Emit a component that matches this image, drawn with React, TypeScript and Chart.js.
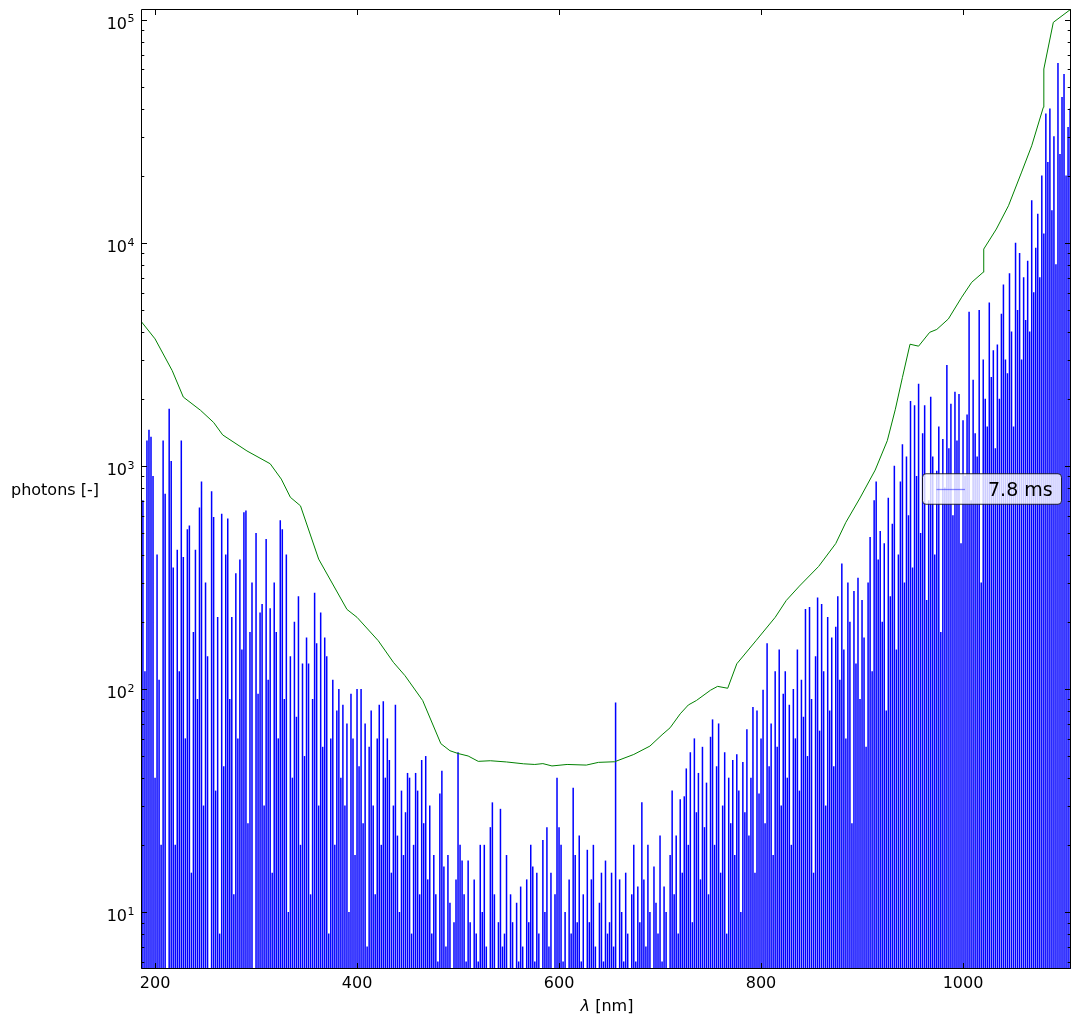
import React, { useEffect, useRef } from "react";
import { Chart, registerables } from "chart.js";

Chart.register(...registerables);

// ---------------- data ----------------
const LAMBDA_START = 186; // nm, first spectrometer bin
const LAMBDA_STEP = 2; // nm per bin
const seriesLabel = "7.8 ms";

// photon counts per bin (0 = below the axis)
const photonCounts: number[] = [
  // 186 - 224
  380, 700, 120, 1300, 1450, 1350, 900, 40, 400, 110, 20, 1300, 750, 0, 1800, 1050, 350, 20, 420, 120,
  // 226 - 264
  1300, 390, 60, 520, 540, 15, 180, 420, 90, 650, 850, 30, 300, 140, 0, 770, 590, 35, 210, 8,
  // 266 - 304
  610, 45, 400, 580, 90, 210, 12, 330, 60, 380, 150, 620, 630, 25, 180, 300, 0, 500, 95, 220,
  // 306 - 344
  240, 30, 470, 110, 230, 15, 300, 180, 60, 570, 520, 90, 400, 10, 140, 40, 200, 75, 260, 20,
  // 346 - 384
  130, 50, 170, 130, 12, 90, 270, 160, 30, 220, 55, 170, 140, 8, 60, 110, 20, 80, 100, 40,
  // 386 - 424
  85, 30, 70, 10, 95, 60, 18, 100, 45, 100, 25, 70, 7, 55, 80, 30, 12, 60, 85, 20,
  // 426 - 464
  88, 40, 60, 48, 15, 30, 85, 22, 10, 35, 18, 28, 42, 40, 8, 20, 42, 35, 12, 48,
  // 466 - 504
  25, 50, 14, 30, 8, 18, 12, 6, 34, 43, 16, 7, 18, 11, 0, 9, 14, 52, 20, 17,
  // 506 - 544
  12, 6, 17, 9, 0, 14, 8, 6, 20, 10, 20, 7, 0, 24, 31, 12, 0, 9, 29, 7,
  // 546 - 584
  8, 18, 5, 12, 9, 0, 11, 6, 13, 7, 0, 14, 9, 20, 16, 6, 15, 8, 0, 21,
  // 586 - 624
  10, 24, 7, 15, 0, 12, 40, 24, 20, 6, 10, 0, 14, 8, 36, 18, 9, 22, 6, 12,
  // 626 - 664
  0, 19, 9, 14, 20, 7, 0, 11, 15, 6, 17, 8, 9, 15, 7, 87, 0, 14, 10, 6,
  // 666 - 704
  15, 8, 0, 12, 20, 6, 13, 9, 31, 14, 7, 20, 10, 0, 16, 11, 8, 22, 6, 13,
  // 706 - 744
  10, 0, 18, 35, 12, 22, 8, 32, 15, 33, 44, 20, 52, 9, 60, 28, 42, 14, 55, 24,
  // 746 - 784
  38, 12, 61, 73, 20, 45, 70, 15, 30, 52, 8, 40, 25, 48, 18, 51, 35, 10, 47, 28,
  // 786 - 824
  66, 22, 40, 83, 15, 80, 34, 60, 99, 25, 160, 45, 70, 18, 120, 55, 150, 30, 95, 120,
  // 826 - 864
  40, 85, 20, 100, 60, 150, 35, 110, 75, 228, 50, 233, 90, 15, 140, 257, 65, 240, 120, 30,
  // 866 - 904
  210, 80, 170, 45, 190, 260, 110, 365, 150, 60, 300, 200, 25, 275, 130, 315, 90, 250, 170, 55,
  // 906 - 944
  300, 480, 120, 700, 850, 380, 510, 200, 450, 80, 720, 260, 550, 1000, 150, 400, 850, 1250, 300, 1100,
  // 946 - 984
  600, 1950, 350, 1870, 900, 2330, 500, 1400, 1870, 250, 700, 2040, 1100, 400, 950, 1500, 180, 1320, 800, 2830,
  // 986 - 1024
  1200, 1900, 600, 2150, 1300, 2100, 450, 1600, 900, 1700, 4900, 700, 2430, 1400, 1100, 5000, 300, 3000, 2000, 1500,
  // 1026 - 1064
  5400, 2500, 3300, 1200, 3500, 2000, 4800, 6500, 3000, 2600, 7300, 4000, 1500, 10000, 5000, 9000, 3000, 7000, 4500, 8300,
  // 1066 - 1104
  4000, 15500, 6000, 9500, 13500, 7000, 20000, 11000, 38000, 23000, 40000, 14000, 30000, 8000, 64000, 25000, 45000, 57000, 20000, 33000,
  // 1106
  40000,
];

// upper envelope (green)
const envelopeLambda: number[] = [
  186, 200, 217, 228, 245, 258, 267, 291, 314, 325, 334, 344, 362, 390, 400, 421, 436, 447.5, 465, 483,
  492, 500, 510, 520, 532, 548, 565, 576, 584, 593, 608, 627, 639, 655, 674, 690, 702, 710, 720, 728,
  736, 750, 757, 767, 776, 795, 814, 825, 838, 857, 874, 884, 898, 913, 925, 933, 940, 947.5, 956, 967,
  974, 985.5, 998.7, 1008.6, 1020, 1020.5, 1033, 1045, 1058, 1068, 1079.5, 1080, 1089.4, 1107,
];
const envelopeValues: number[] = [
  4470, 3720, 2680, 2040, 1780, 1570, 1380, 1170, 1025, 875, 725, 664, 383, 228, 210, 165, 132, 115, 89, 57,
  53, 51.5, 50.2, 47.5, 47.8, 47.2, 46.3, 46, 46.4, 45.3, 46, 45.7, 47, 47.3, 51, 55.6, 62.5, 67.2, 77.6, 85,
  89, 99, 103, 101, 130, 165, 210, 250, 290, 355, 450, 560, 720, 960, 1300, 1800, 2500, 3520, 3450, 3980,
  4100, 4570, 5720, 6670, 7400, 9400, 11560, 14700, 20800, 27300, 40600, 60300, 97600, 112000,
];

const xTickValues = [200, 400, 600, 800, 1000];
const yTickExponents = [1, 2, 3, 4, 5];
const xRange = [186.1, 1106.9];
const yRange = [5.57, 112000];
const yTitle = "photons [-]";
const xTitleSymbol = "λ";
const xTitleUnit = " [nm]";

const FONT = '"DejaVu Sans", "Liberation Sans", sans-serif';

const mplPlugin = {
  id: "mplFrame",
  afterDraw(chart: any) {
    const { ctx, chartArea: a, scales } = chart;
    const xs = scales.x;
    const ys = scales.y;
    ctx.save();

    // spines + inward ticks
    ctx.strokeStyle = "#000";
    ctx.lineWidth = 1;
    const L = a.left + 0.5;
    const R = a.right - 0.5;
    const T = a.top + 0.5;
    const B = a.bottom - 0.5;
    const major = 5.5;
    const minor = 2.8;
    ctx.beginPath();
    ctx.rect(L, T, R - L, B - T);
    xTickValues.forEach((v) => {
      const px = Math.round(xs.getPixelForValue(v)) + 0.5;
      ctx.moveTo(px, B);
      ctx.lineTo(px, B - major);
      ctx.moveTo(px, T);
      ctx.lineTo(px, T + major);
    });
    for (let e = 0; e <= 5; e++) {
      for (let m = 1; m < 10; m++) {
        const v = m * Math.pow(10, e);
        if (v < ys.min || v > ys.max) continue;
        const py = Math.round(ys.getPixelForValue(v)) + 0.5;
        const len = m === 1 ? major : minor;
        ctx.moveTo(L, py);
        ctx.lineTo(L + len, py);
        ctx.moveTo(R, py);
        ctx.lineTo(R - len, py);
      }
    }
    ctx.stroke();

    // tick labels
    ctx.fillStyle = "#000";
    ctx.textBaseline = "alphabetic";
    ctx.font = `16px ${FONT}`;
    ctx.textAlign = "center";
    xTickValues.forEach((v) => {
      ctx.fillText(String(v), xs.getPixelForValue(v), a.bottom + 19);
    });
    ctx.textAlign = "left";
    yTickExponents.forEach((e) => {
      const py = ys.getPixelForValue(Math.pow(10, e));
      ctx.font = `16px ${FONT}`;
      const wBase = ctx.measureText("10").width;
      ctx.font = `11px ${FONT}`;
      const wSup = ctx.measureText(String(e)).width;
      const right = a.left - 6.5;
      const x0 = right - wSup - wBase - 0.5;
      ctx.font = `16px ${FONT}`;
      ctx.fillText("10", x0, py + 9);
      ctx.font = `11px ${FONT}`;
      ctx.fillText(String(e), x0 + wBase + 0.5, py + 2.5);
    });

    // axis titles
    ctx.font = `16px ${FONT}`;
    ctx.textAlign = "left";
    ctx.fillText(yTitle, 11, (a.top + a.bottom) / 2 + 6);
    ctx.font = `italic 16px ${FONT}`;
    const wSym = ctx.measureText(xTitleSymbol).width;
    ctx.font = `16px ${FONT}`;
    const wUnit = ctx.measureText(xTitleUnit).width;
    const cx = (a.left + a.right) / 2 + 1;
    const sx = cx - (wSym + wUnit) / 2;
    const ty = a.bottom + 42;
    ctx.font = `italic 16px ${FONT}`;
    ctx.fillText(xTitleSymbol, sx, ty);
    ctx.font = `16px ${FONT}`;
    ctx.fillText(xTitleUnit, sx + wSym, ty);

    // legend (center right, framed)
    const bw = 139;
    const bh = 30.5;
    const bx = a.right - 9.5 - bw;
    const cy = (a.top + a.bottom) / 2;
    const by = cy - bh / 2;
    const r = 3.5;
    ctx.beginPath();
    ctx.moveTo(bx + r, by);
    ctx.lineTo(bx + bw - r, by);
    ctx.arcTo(bx + bw, by, bx + bw, by + r, r);
    ctx.lineTo(bx + bw, by + bh - r);
    ctx.arcTo(bx + bw, by + bh, bx + bw - r, by + bh, r);
    ctx.lineTo(bx + r, by + bh);
    ctx.arcTo(bx, by + bh, bx, by + bh - r, r);
    ctx.lineTo(bx, by + r);
    ctx.arcTo(bx, by, bx + r, by, r);
    ctx.closePath();
    ctx.fillStyle = "rgba(255,255,255,0.8)";
    ctx.fill();
    ctx.strokeStyle = "rgba(0,0,0,0.8)";
    ctx.lineWidth = 1;
    ctx.stroke();
    ctx.beginPath();
    ctx.strokeStyle = "rgba(0,0,255,0.45)";
    ctx.lineWidth = 1.3;
    ctx.moveTo(bx + 14, Math.round(cy) + 0.5);
    ctx.lineTo(bx + 42.5, Math.round(cy) + 0.5);
    ctx.stroke();
    ctx.fillStyle = "#000";
    ctx.font = `19px ${FONT}`;
    const label = chart.data.datasets[1]?.label ?? seriesLabel;
    ctx.fillText(label, bx + 65.5, cy + 7);

    ctx.restore();
  },
};

export default function App() {
  const canvasRef = useRef<HTMLCanvasElement | null>(null);

  useEffect(() => {
    const canvas = canvasRef.current;
    if (!canvas) return;
    const bars = photonCounts.map((v, i) => ({ x: LAMBDA_START + i * LAMBDA_STEP, y: v }));
    const envelope = envelopeLambda.map((l, i) => ({ x: l, y: envelopeValues[i] }));

    const chart = new Chart(canvas, {
      type: "bar",
      data: {
        datasets: [
          {
            type: "line",
            label: "envelope",
            data: envelope,
            borderColor: "#008000",
            borderWidth: 1,
            pointRadius: 0,
            tension: 0,
            fill: false,
            order: 0,
            clip: 0,
          } as any,
          {
            type: "bar",
            label: seriesLabel,
            data: bars,
            backgroundColor: "rgb(0,0,255)",
            borderWidth: 0,
            barThickness: 0.85,
            order: 1,
            clip: 0,
          } as any,
        ],
      },
      options: {
        responsive: false,
        animation: false,
        events: [],
        layout: { padding: { left: 141, top: 9, right: 11, bottom: 57 } },
        plugins: { legend: { display: false }, tooltip: { enabled: false }, title: { display: false } },
        scales: {
          x: { type: "linear", display: false, min: xRange[0], max: xRange[1], offset: false },
          y: { type: "logarithmic", display: false, min: yRange[0], max: yRange[1] },
        },
      },
      plugins: [mplPlugin],
    });
    return () => chart.destroy();
  }, []);

  return (
    <div style={{ position: "fixed", left: 0, top: 0, width: 1082, height: 1026, background: "#fff" }}>
      <canvas ref={canvasRef} width={1082} height={1026} style={{ display: "block", width: 1082, height: 1026 }} />
    </div>
  );
}
